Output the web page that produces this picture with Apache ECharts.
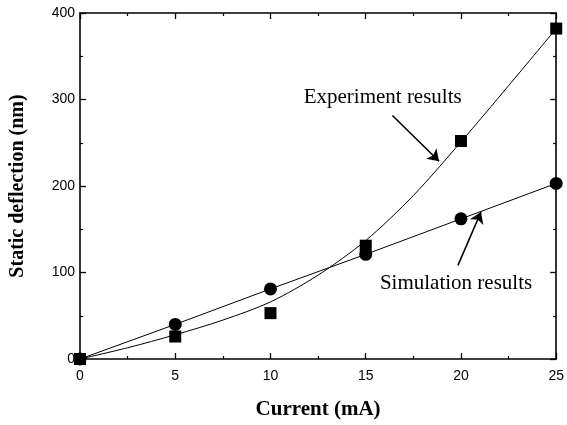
<!DOCTYPE html>
<html>
<head>
<meta charset="utf-8">
<script src="https://cdn.jsdelivr.net/npm/echarts@6/dist/echarts.min.js"></script>
<style>html,body{margin:0;padding:0;background:#fff}#c{width:567px;height:425px}</style>
</head>
<body>
<div id="c"></div>
<script>
// Data
const currents = [0, 5, 10, 15, 20, 25];
const experiment = [0, 26, 53, 131, 252, 382];
const simulation = [0, 40, 81, 121, 162, 203];
// Fitted curve through the experiment points
const fitX = [0, 2.5, 5, 7.5, 10, 12.5, 15, 17.5, 20, 22.5, 25];
const fitY = [0, 13, 28, 45, 66, 97, 137, 189, 251, 316, 382];
const xTicks = [0, 5, 10, 15, 20, 25];
const yTicks = [0, 100, 200, 300, 400];

const pair = (xs, ys) => xs.map((x, i) => [x, ys[i]]);

const chart = echarts.init(document.getElementById('c'), null, {renderer: 'canvas'});

const axisCommon = {
  axisLine: {show: true, onZero: false, lineStyle: {color: '#000', width: 1.6}},
  axisTick: {show: true, inside: true, length: 6, lineStyle: {color: '#000', width: 1.3}},
  minorTick: {show: true, splitNumber: 2, length: 3, lineStyle: {color: '#000', width: 1.2}},
  splitLine: {show: false}
};
const tickFont = {color: '#000', fontFamily: 'Liberation Sans, Arial', fontSize: 14};

chart.setOption({
  animation: false,
  backgroundColor: '#fff',
  grid: {left: 80, right: 7, top: 13, bottom: 62, containLabel: false},
  xAxis: [
    Object.assign({
      type: 'value', min: 0, max: 25, interval: 5, position: 'bottom',
      name: 'Current (mA)', nameLocation: 'middle', nameGap: 40,
      nameTextStyle: {color: '#000', fontFamily: 'Liberation Serif, Times New Roman, serif', fontWeight: 'bold', fontSize: 21},
      axisLabel: Object.assign({margin: 10, formatter: v => xTicks.includes(v) ? String(v) : ''}, tickFont)
    }, axisCommon),
    Object.assign({
      type: 'value', min: 0, max: 25, interval: 5, position: 'top',
      axisLabel: {show: false}
    }, axisCommon)
  ],
  yAxis: [
    Object.assign({
      type: 'value', min: 0, max: 400, interval: 100, position: 'left',
      name: 'Static deflection (nm)', nameLocation: 'middle', nameGap: 52, nameRotate: 90,
      nameTextStyle: {color: '#000', fontFamily: 'Liberation Serif, Times New Roman, serif', fontWeight: 'bold', fontSize: 20},
      axisLabel: Object.assign({margin: 5, formatter: v => yTicks.includes(v) ? String(v) : ''}, tickFont)
    }, axisCommon),
    Object.assign({
      type: 'value', min: 0, max: 400, interval: 100, position: 'right',
      axisLabel: {show: false}
    }, axisCommon)
  ],
  series: [
    {
      name: 'fit', type: 'line', smooth: 0.3, showSymbol: false, symbol: 'none',
      data: pair(fitX, fitY),
      lineStyle: {color: '#000', width: 1},
      z: 2,
      markLine: {
        silent: true, symbol: ['none', 'arrow'], symbolSize: 11,
        label: {show: false},
        lineStyle: {color: '#000', width: 1.6, type: 'solid'},
        data: [
          [{coord: [16.4, 281.5]}, {coord: [18.85, 228.6]}],
          [{coord: [19.84, 108.2]}, {coord: [21.05, 170]}]
        ]
      },
      markPoint: {
        silent: true, symbol: 'circle', symbolSize: 0,
        label: {show: true, position: 'inside', color: '#000',
          fontFamily: 'Liberation Serif, Times New Roman, serif', fontSize: 21},
        data: [
          {coord: [15.89, 302.9], label: {formatter: 'Experiment results'}},
          {coord: [19.74, 86.9], label: {formatter: 'Simulation results'}}
        ]
      }
    },
    {
      name: 'Simulation results', type: 'line', smooth: false,
      data: pair(currents, simulation),
      symbol: 'circle', symbolSize: 13,
      itemStyle: {color: '#000', opacity: 1},
      lineStyle: {color: '#000', width: 1},
      z: 3
    },
    {
      name: 'Experiment results', type: 'scatter',
      data: pair(currents, experiment),
      symbol: 'rect', symbolSize: 12,
      itemStyle: {color: '#000', opacity: 1},
      z: 4
    }
  ]
});
</script>
</body>
</html>
